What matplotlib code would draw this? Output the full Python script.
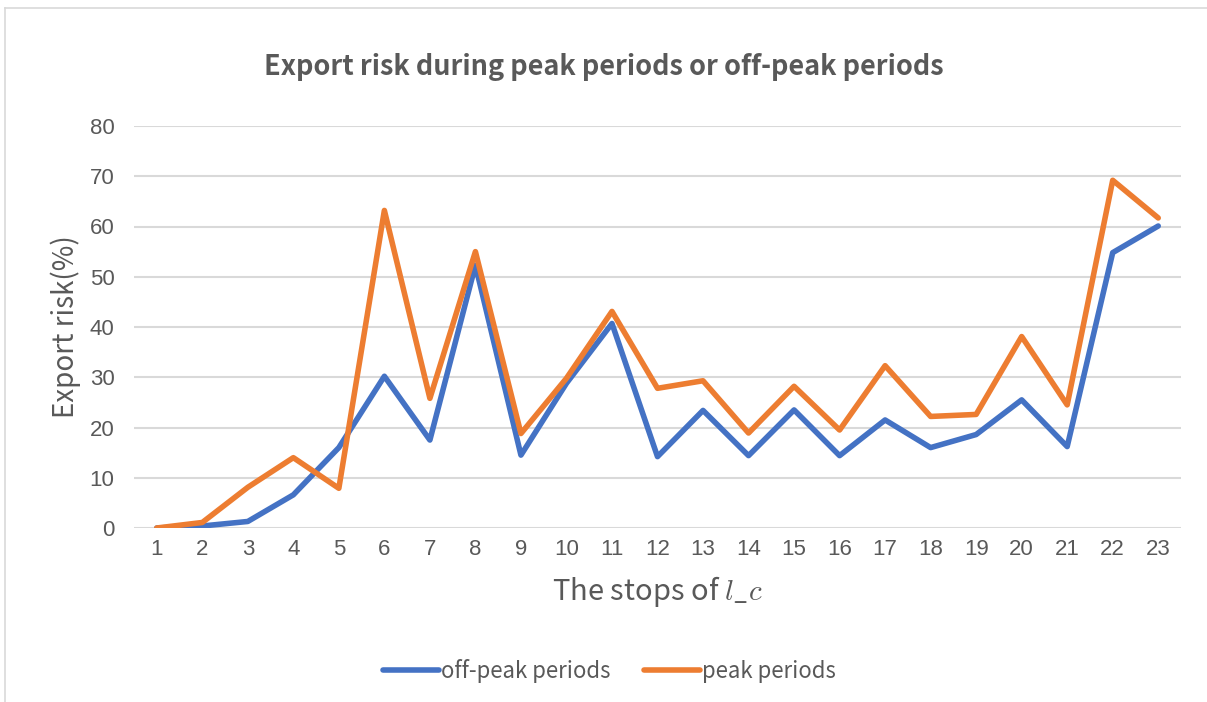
import matplotlib.pyplot as plt
from matplotlib.lines import Line2D

plt.rcParams['font.family'] = ['Noto Sans CJK SC', 'DejaVu Sans']
plt.rcParams['mathtext.fontset'] = 'cm'

stops = list(range(1, 24))
off_peak = [0, 0.4, 1.3, 6.6, 16, 30.2, 17.5, 52.3, 14.5, 28.8, 40.7, 14.2, 23.4,
            14.4, 23.5, 14.4, 21.5, 16, 18.6, 25.5, 16.2, 54.8, 60.1]
peak = [0, 1.1, 8.1, 14, 7.9, 63.2, 25.8, 55, 18.8, 29.8, 43.1, 27.8, 29.3,
        18.9, 28.2, 19.5, 32.3, 22.2, 22.6, 38.1, 24.5, 69.2, 61.7]

txt = '#595959'
W, H = 1207, 702

fig = plt.figure(figsize=(W / 100, H / 100), dpi=100)
ax = fig.add_axes([134 / W, 1 - 528 / H, (1181 - 134) / W, (528 - 126) / H])

ax.plot(stops, off_peak, color='#4472C4', lw=4, solid_joinstyle='round',
        solid_capstyle='round', label='off-peak periods', zorder=3)
ax.plot(stops, peak, color='#ED7D31', lw=4, solid_joinstyle='round',
        solid_capstyle='round', label='peak periods', zorder=4)

ax.set_xlim(0.5, 23.5)
ax.set_ylim(0, 80)
ax.set_yticks(range(0, 81, 10))
ax.set_xticks(stops)
ax.grid(axis='y', color='#D9D9D9', lw=1.5, zorder=1)
ax.set_axisbelow(True)
for s in ax.spines.values():
    s.set_visible(False)
ax.tick_params(length=0, labelsize=16, labelcolor=txt, pad=8)
for lab in ax.get_xticklabels() + ax.get_yticklabels():
    lab.set_family(['Liberation Sans', 'DejaVu Sans'])
ax.tick_params(axis='y', pad=14)

ax.set_ylabel('Export risk(%)', fontsize=20, color=txt, labelpad=6)
ax.set_xlabel(r'The stops of $l\_c$', fontsize=21, color=txt, labelpad=10)

fig.text(0.5, 1 - 67 / H, 'Export risk during peak periods or off-peak periods',
         ha='center', va='center', fontsize=19.5, fontweight='bold', color=txt)

fig.legend(loc='center', bbox_to_anchor=(0.505, 1 - 671 / H), ncol=2,
           frameon=False, fontsize=16, labelcolor=txt, handlelength=2.5,
           handletextpad=0.1, columnspacing=1.5)

fig.add_artist(Line2D([5 / W, 5 / W], [0, 1 - 7.5 / H], color='#D9D9D9', lw=1.2,
                      transform=fig.transFigure))
fig.add_artist(Line2D([5 / W, 1], [1 - 7.5 / H, 1 - 7.5 / H], color='#D9D9D9', lw=1.2,
                      transform=fig.transFigure))

fig.savefig('out.png', dpi=100)
